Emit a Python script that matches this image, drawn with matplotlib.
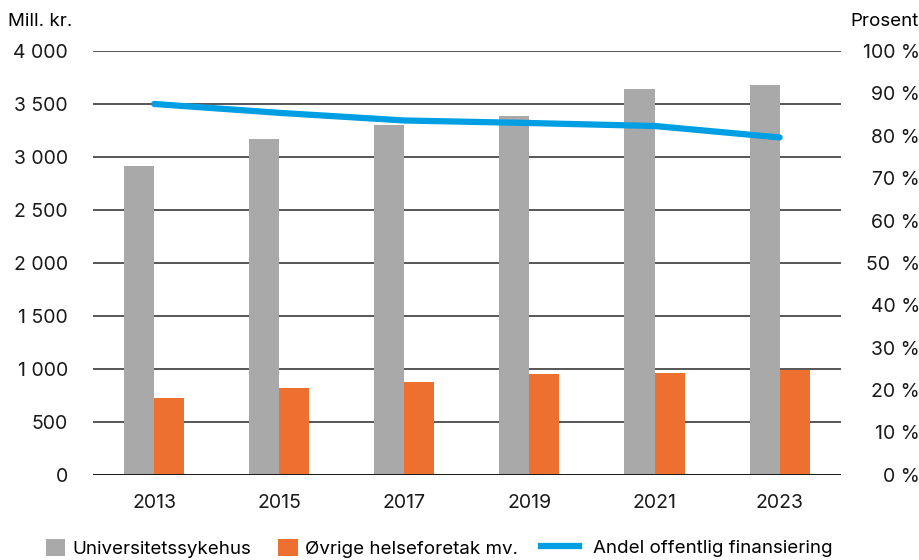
import numpy as np
import matplotlib.pyplot as plt
from matplotlib.lines import Line2D
from matplotlib.patches import Patch

years = ["2013", "2015", "2017", "2019", "2021", "2023"]
universitet = [2910, 3170, 3300, 3390, 3640, 3680]
ovrige = [725, 820, 875, 950, 960, 990]
andel_offentlig = [87.5, 85.4, 83.6, 83.0, 82.3, 79.6]

left_ticks = [0, 500, 1000, 1500, 2000, 2500, 3000, 3500, 4000]
left_labels = ["0", "500", "1 000", "1 500", "2 000", "2 500", "3 000", "3 500", "4 000"]
right_ticks = [0, 10, 20, 30, 40, 50, 60, 70, 80, 90, 100]
right_labels = ["0 %", "10 %", "20 %", "30 %", "40 %", "50  %", "60 %", "70 %", "80 %", "90 %", "100 %"]

GRAY = "#a9a9a9"
ORANGE = "#ed7030"
BLUE = "#009fe3"

plt.rcParams["font.family"] = ["Inter", "DejaVu Sans"]
plt.rcParams["font.size"] = 14

fig = plt.figure(figsize=(9.2, 5.6), dpi=100)
ax = fig.add_axes([0.101, 0.152, 0.813, 0.757])
ax2 = ax.twinx()

x = np.arange(len(years))
w = 0.24
ax.bar(x - w / 2, universitet, width=w, color=GRAY, zorder=3)
ax.bar(x + w / 2, ovrige, width=w, color=ORANGE, zorder=3)

ax.set_xlim(-0.49, 5.49)
ax.set_ylim(0, 4000)
ax.set_yticks(left_ticks)
ax.set_yticklabels(left_labels)
ax.yaxis.grid(True, color="#3a3a3a", linewidth=1.2, zorder=0)
ax.set_axisbelow(True)
ax.set_xticks(x)
ax.set_xticklabels(years)
ax.tick_params(axis="both", length=0, colors="#1a1a1a")
ax.tick_params(axis="y", pad=18)
ax.tick_params(axis="x", pad=14)
for s in ax.spines.values():
    s.set_visible(False)
ax.axhline(0, color="#1a1a1a", linewidth=1.4, zorder=4)

ax2.plot(x, andel_offentlig, color=BLUE, linewidth=4.5, solid_capstyle="round", zorder=5)
ax2.set_ylim(0, 100)
ax2.set_yticks(right_ticks)
ax2.set_yticklabels(right_labels, ha="right")
ax2.tick_params(axis="y", length=0, pad=57, colors="#1a1a1a")
for s in ax2.spines.values():
    s.set_visible(False)

fig.text(0.009, 0.962, "Mill. kr.", ha="left", va="center", fontsize=13.5)
fig.text(0.998, 0.962, "Prosent", ha="right", va="center", fontsize=13.5)

# bars and line get their own legends so the swatches can be sized separately
bar_handles = [
    Patch(facecolor=GRAY, label="Universitetssykehus"),
    Patch(facecolor=ORANGE, label="Øvrige helseforetak mv."),
]
fig.legend(handles=bar_handles, loc="center left", bbox_to_anchor=(0.05, 0.021),
           ncol=2, frameon=False, fontsize=13.5, handlelength=1.03, handleheight=1.03,
           handletextpad=0.38, columnspacing=1.45, borderpad=0, borderaxespad=0)

line_handles = [Line2D([0], [0], color=BLUE, linewidth=4.5, label="Andel offentlig finansiering")]
fig.legend(handles=line_handles, loc="center left", bbox_to_anchor=(0.588, 0.021),
           frameon=False, fontsize=13.5, handlelength=2.05,
           handletextpad=0.75, borderpad=0, borderaxespad=0)

fig.savefig("out.png", dpi=100)
